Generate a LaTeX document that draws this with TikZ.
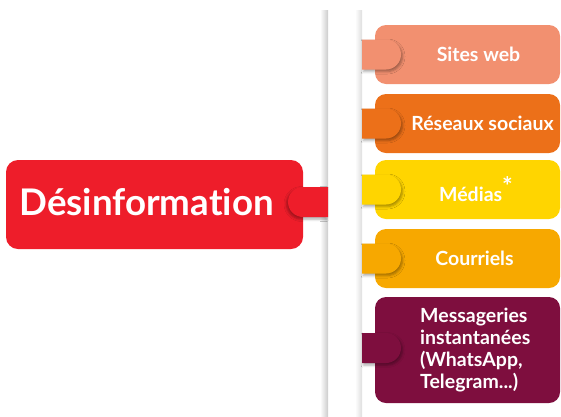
\documentclass[tikz,border=0pt]{standalone}
\usepackage{fontspec}
\setmainfont{Lato}[Ligatures={NoCommon,NoDiscretionary}]
\usetikzlibrary{shapes.misc,shadows.blur}
\definecolor{cRed}{RGB}{238,29,42}
\definecolor{cSite}{RGB}{242,144,112}
\definecolor{cRes}{RGB}{236,112,25}
\definecolor{cMed}{RGB}{255,213,0}
\definecolor{cCou}{RGB}{247,168,0}
\definecolor{cMes}{RGB}{126,14,62}
\tikzset{
  rbox/.style={rectangle, rounded corners=11pt, minimum width=185pt, inner sep=0pt, draw=none},
  rtab/.style={rounded rectangle, rounded rectangle left arc=none, minimum width=39pt, minimum height=30pt, inner sep=0pt, draw=none,
     blur shadow={shadow xshift=1.5pt, shadow yshift=-2pt, shadow blur radius=2.5pt, shadow opacity=35}},
  ltab/.style={rounded rectangle, rounded rectangle right arc=none, minimum width=40pt, minimum height=30pt, inner sep=0pt, draw=none,
     blur shadow={shadow xshift=-1.5pt, shadow yshift=-2pt, shadow blur radius=2.5pt, shadow opacity=35}},
  rlbl/.style={text=white, font=\fontsize{19.5}{21.8}\selectfont\bfseries, inner sep=0pt},
}
\begin{document}
\begin{tikzpicture}[x=1pt,y=-1pt]
\useasboundingbox (0,0) rectangle (561,416);
% vertical strip shadows
\shade[left color=white, right color=black!20, draw=none] (320,10) rectangle (328,416);
\shade[left color=white, right color=black!13, draw=none] (355,10) rectangle (362,416);
% main box
\node[rectangle, rounded corners=12pt, minimum width=297pt, minimum height=89pt, fill=cRed, inner sep=0pt] (main) at (154.5,204.5) {};
\node[ltab, fill=cRed] (maintab) at (308,202) {};
\node[text=white, font=\fontsize{36.7}{42}\selectfont\bfseries, inner sep=0pt] (mainlbl) at (146.5,202.5) {Désinformation};
% right boxes
\node[rbox, fill=cSite, minimum height=59pt] (site) at (467.5,54.5) {};
\node[rtab, fill=cSite] (sitetab) at (381.5,54.5) {};
\node[rlbl] (sitelbl) at (478.5,54.5) {Sites web};

\node[rbox, fill=cRes, minimum height=59pt] (res) at (467.5,123.5) {};
\node[rtab, fill=cRes] (restab) at (381.5,123.5) {};
\node[rlbl] (reslbl) at (482.5,123.5) {Réseaux sociaux};

\node[rbox, fill=cMed, minimum height=59pt] (med) at (467.5,189.5) {};
\node[rtab, fill=cMed] (medtab) at (381.5,189.5) {};
\node[rlbl] (medlbl) at (476,189.5) {Médias\raisebox{0.3em}{\fontsize{25}{25}\selectfont *}};

\node[rbox, fill=cCou, minimum height=59pt] (cou) at (467.5,258.5) {};
\node[rtab, fill=cCou] (coutab) at (381.5,258.5) {};
\node[rlbl] (coulbl) at (474.5,258.5) {Courriels};

\node[rbox, fill=cMes, minimum height=106pt] (mes) at (467.5,350) {};
\node[rtab, fill=cMes] (mestab) at (381.5,348) {};
\node[rlbl, align=left, anchor=west] (meslbl) at (420,350) {Messageries\\instantanées\\(WhatsApp,\\Telegram...)};
\end{tikzpicture}
\end{document}
